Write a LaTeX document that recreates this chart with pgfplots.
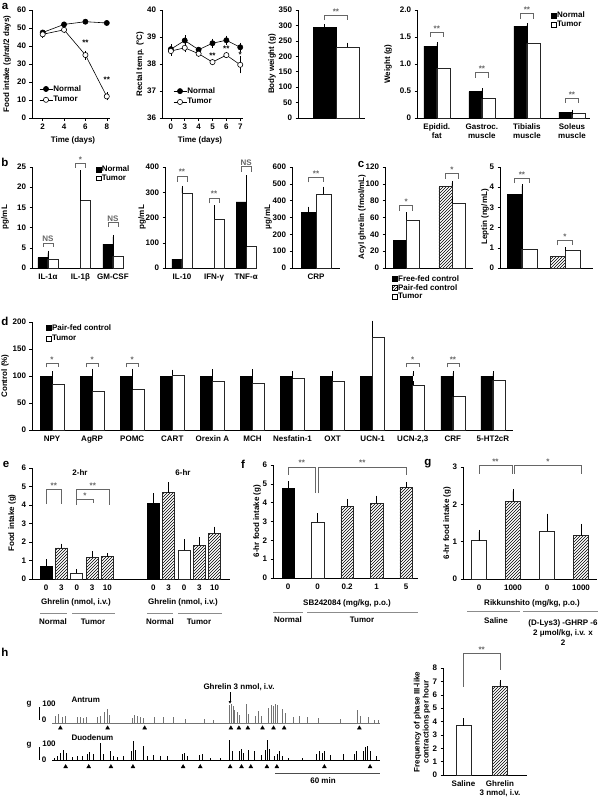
\documentclass[border=0pt]{standalone}
\usepackage{pgfplots}
\pgfplotsset{compat=1.18}
\usepackage{fontspec}
\setmainfont{Liberation Sans}
\usetikzlibrary{patterns,arrows.meta}
\newcommand{\fs}{\fontsize{8}{9}\selectfont\bfseries}
\newcommand{\fl}{\fontsize{11.5}{12}\selectfont\bfseries}
\newcommand{\legB}{\addlegendimage{legend image code/.code={\draw[fill=black,draw=black,line width=0.5pt] (0pt,-2.4pt) rectangle (4.8pt,2.4pt);}}}
\newcommand{\legW}{\addlegendimage{legend image code/.code={\draw[fill=white,draw=black,line width=0.5pt] (0pt,-2.4pt) rectangle (4.8pt,2.4pt);}}}
\newcommand{\legH}{\addlegendimage{legend image code/.code={\draw[pattern=north east lines,draw=black,line width=0.5pt] (0pt,-2.4pt) rectangle (4.8pt,2.4pt);}}}
\tikzset{brk/.style={black!60, line width=0.6pt}, st/.style={font=\fs, above, inner sep=0.6pt}}
\pgfplotsset{
  every axis/.append style={
    scale only axis, clip=false, anchor=south west,
    axis x line*=bottom, axis y line*=left,
    axis line style={-, line width=0.6pt},
    every outer x axis line/.append style={-},
    every outer y axis line/.append style={-},
    tick align=outside, major tick length=2.5pt,
    tick style={black, line width=0.5pt},
    tick label style={font=\fs},
    /pgf/number format/assume math mode=true,
    legend style={draw=none, fill=none, font=\fs, inner sep=0pt, row sep=0.5pt, nodes={inner sep=0.6pt}},
    legend cell align=left,
  },
  barax/.style={xtick style={draw=none}},
  ebp/.style={error bars/y dir=plus, error bars/y explicit,
    error bars/error bar style={black, line width=0.5pt},
    error bars/error mark options={black, mark size=2pt, line width=0.5pt}},
  bB/.style={ybar, bar width=#1, fill=black, draw=black, line width=0.6pt, ebp, forget plot},
  bW/.style={ybar, bar width=#1, fill=white, draw=black!85, line width=0.6pt, ebp, forget plot},
  bH/.style={ybar, bar width=#1, pattern=north east lines, draw=black!85, line width=0.6pt, ebp, forget plot},
  lineleg/.style={legend image code/.code={\draw[mark repeat=2,mark phase=2,##1] plot coordinates {(0pt,0pt)(6.5pt,0pt)(13pt,0pt)};}},
}
\begin{document}
\begin{tikzpicture}
\path[use as bounding box] (0pt,0pt) rectangle (599pt,-801pt);

% ---------------- a1 food intake
\begin{axis}[at={(32pt,-118pt)}, width=78pt, height=108pt,
  xmin=1, xmax=8.3, ymin=0, ymax=60, xtick={2,4,6,8}, ytick={0,10,...,60},
  lineleg, legend style={at={(0.09,0.31)}, anchor=north west, row sep=2.5pt}]
\addlegendimage{black, line width=0.6pt, mark=*, mark size=2.6pt, mark options={fill=black}}
\addlegendentry{Normal}
\addlegendimage{black, line width=0.6pt, mark=*, mark size=2.6pt, mark options={fill=white}}
\addlegendentry{Tumor}
\addplot[black, line width=0.6pt, mark=*, mark size=2.6pt, mark options={fill=black}, forget plot]
  coordinates {(2,47.5)(4,52)(6,53.5)(8,52.8)};
\addplot[black, line width=0.6pt, mark=*, mark size=2.6pt, mark options={fill=white}, forget plot,
  error bars/y dir=both, error bars/y explicit, error bars/error mark options={black, mark size=1.8pt}]
  coordinates {(2,46.5) +- (0,0.8) (4,49) +- (0,1) (6,35) +- (0,1.5) (8,12) +- (0,1.2)};
\node[font=\fs] at (axis cs:6,42) {**};
\node[font=\fs] at (axis cs:8,21) {**};
\end{axis}

% ---------------- a2 rectal temp
\begin{axis}[at={(162pt,-118pt)}, width=81pt, height=108pt,
  xmin=-0.64, xmax=5.2, ymin=36, ymax=40, xtick={0,...,5}, xticklabels={0,3,4,5,6,7}, ytick={36,...,40},
  lineleg, legend style={at={(0.136,0.29)}, anchor=north west, row sep=2.5pt}]
\addlegendimage{black, line width=0.6pt, mark=*, mark size=2.6pt, mark options={fill=black}}
\addlegendentry{Normal}
\addlegendimage{black, line width=0.6pt, mark=*, mark size=2.6pt, mark options={fill=white}}
\addlegendentry{Tumor}
\addplot[black, line width=0.6pt, mark=*, mark size=2.6pt, mark options={fill=black}, forget plot,
  error bars/y dir=both, error bars/y explicit, error bars/error mark options={black, mark size=1.8pt}]
  coordinates {(0,38.55) +- (0,0.12) (1,38.87) +- (0,0.12) (2,38.53) +- (0,0.05) (3,38.77) +- (0,0.1) (4,38.88) +- (0,0.1) (5,38.62) +- (0,0.1)};
\addplot[black, line width=0.6pt, mark=*, mark size=2.6pt, mark options={fill=white}, forget plot,
  error bars/y dir=both, error bars/y explicit, error bars/error mark options={black, mark size=1.8pt}]
  coordinates {(0,38.48) +- (0,0.1) (1,38.6) +- (0,0.1) (2,38.38) +- (0,0.05) (3,38.07) +- (0,0.05) (4,38.33) +- (0,0.05) (5,37.97) +- (0,0.25)};
\node[font=\fs] at (axis cs:3,38.3) {**};
\node[font=\fs] at (axis cs:4,38.55) {**};
\node[font=\fs] at (axis cs:5,38.33) {*};
\end{axis}

% ---------------- a3 body weight
\begin{axis}[at={(298pt,-118pt)}, width=67pt, height=108pt, barax,
  xmin=-1.15, xmax=1.76, ymin=0, ymax=350, ytick={0,50,...,350}, xtick=\empty]
\addplot[bB=23pt] coordinates {(0,295) +- (0,3)};
\addplot[bW=23pt] coordinates {(1,230) +- (0,8)};
\draw[brk] (axis cs:0,317) -- (axis cs:0,334) -- node[st]{**} (axis cs:1,334) -- (axis cs:1,317);
\end{axis}

% ---------------- a4 tissue weights
\begin{axis}[at={(417pt,-118pt)}, width=173pt, height=108pt, barax,
  xmin=-0.44, xmax=3.4, ymin=0, ymax=2, ytick={0,0.5,1,1.5,2}, yticklabels={0,0.5,1.0,1.5,2.0},
  xtick={0,1,2,3}, xticklabels={{Epidid.\\fat},{Gastroc.\\muscle},{Tibialis\\muscle},{Soleus\\muscle}},
  xticklabel style={align=center},
  legend style={at={(0.775,0.99)}, anchor=north west}]
\legB \addlegendentry{Normal}
\legW \addlegendentry{Tumor}
\addplot[bB=13pt, bar shift=-6.5pt] coordinates {(0,1.33) +- (0,0.04) (1,0.49) +- (0,0.02) (2,1.70) +- (0,0.02) (3,0.11) +- (0,0.01)};
\addplot[bW=13pt, bar shift=6.5pt] coordinates {(0,0.92) +- (0,0.06) (1,0.36) +- (0,0.02) (2,1.38) +- (0,0.05) (3,0.09) +- (0,0.01)};
\draw[brk] (axis cs:-0.14,1.5) -- (axis cs:-0.14,1.59) -- node[st]{**} (axis cs:0.14,1.59) -- (axis cs:0.14,1.5);
\draw[brk] (axis cs:0.86,0.75) -- (axis cs:0.86,0.84) -- node[st]{**} (axis cs:1.14,0.84) -- (axis cs:1.14,0.75);
\draw[brk] (axis cs:1.86,1.84) -- (axis cs:1.86,1.93) -- node[st]{**} (axis cs:2.14,1.93) -- (axis cs:2.14,1.84);
\draw[brk] (axis cs:2.86,0.28) -- (axis cs:2.86,0.37) -- node[st]{**} (axis cs:3.14,0.37) -- (axis cs:3.14,0.28);
\end{axis}

% ---------------- b1 cytokines
\begin{axis}[at={(32pt,-268pt)}, width=91pt, height=101pt, barax,
  xmin=-0.49, xmax=2.31, ymin=0, ymax=25, ytick={0,5,...,25},
  xtick={0,1,2}, xticklabels={IL-1α,IL-1β,GM-CSF},
  legend style={at={(0.70,1.02)}, anchor=north west}]
\legB \addlegendentry{Normal}
\legW \addlegendentry{Tumor}
\addplot[bB=10pt, bar shift=-5pt] coordinates {(0,2.6) +- (0,1.2) (2,5.9) +- (0,1.8)};
\addplot[bW=10pt, bar shift=5pt] coordinates {(0,2.2) +- (0,1.1) (1,16.7) +- (0,7.0) (2,2.9) +- (0,1.7)};
\draw[brk] (axis cs:-0.15,5.2) -- (axis cs:-0.15,6.2) -- node[st]{NS} (axis cs:0.15,6.2) -- (axis cs:0.15,5.2);
\draw[brk] (axis cs:0.85,24.8) -- (axis cs:0.85,26) -- node[st]{*} (axis cs:1.15,26) -- (axis cs:1.15,24.8);
\draw[brk] (axis cs:1.85,10.1) -- (axis cs:1.85,11.2) -- node[st]{NS} (axis cs:2.15,11.2) -- (axis cs:2.15,10.1);
\end{axis}

% ---------------- b2 cytokines
\begin{axis}[at={(165pt,-268pt)}, width=92pt, height=101pt, barax,
  xmin=-0.53, xmax=2.34, ymin=0, ymax=400, ytick={0,100,...,400},
  xtick={0,1,2}, xticklabels={IL-10,IFN-γ,TNF-α}]
\addplot[bB=10pt, bar shift=-5pt] coordinates {(0,35) +- (0,3) (2,262) +- (0,97)};
\addplot[bW=10pt, bar shift=5pt] coordinates {(0,297) +- (0,20) (1,193) +- (0,47) (2,85) +- (0,35)};
\draw[brk] (axis cs:-0.16,342) -- (axis cs:-0.16,365) -- node[st]{**} (axis cs:0.16,365) -- (axis cs:0.16,342);
\draw[brk] (axis cs:0.84,256) -- (axis cs:0.84,278) -- node[st]{**} (axis cs:1.16,278) -- (axis cs:1.16,256);
\draw[brk] (axis cs:1.84,382) -- (axis cs:1.84,404) -- node[st]{NS} (axis cs:2.16,404) -- (axis cs:2.16,382);
\end{axis}

% ---------------- b3 CRP
\begin{axis}[at={(292pt,-268pt)}, width=48pt, height=101pt, barax,
  xmin=-1.6, xmax=1.6, ymin=0, ymax=600, ytick={0,100,...,600},
  xtick={0}, xticklabels={CRP}]
\addplot[bB=15pt] coordinates {(-0.5,333) +- (0,20)};
\addplot[bW=15pt] coordinates {(0.5,437) +- (0,35)};
\draw[brk] (axis cs:-0.5,508) -- (axis cs:-0.5,540) -- node[st]{**} (axis cs:0.5,540) -- (axis cs:0.5,508);
\end{axis}

% ---------------- c1 acyl ghrelin
\begin{axis}[at={(385pt,-268pt)}, width=88pt, height=101pt, barax,
  xmin=-0.46, xmax=1.46, ymin=0, ymax=120, ytick={0,20,...,120}, xtick=\empty,
  legend style={at={(0.08,-0.064)}, anchor=north west}]
\legB \addlegendentry{Free-fed control}
\legH \addlegendentry{Pair-fed control}
\legW \addlegendentry{Tumor}
\addplot[bB=13pt, bar shift=-6.5pt] coordinates {(0,33) +- (0,5)};
\addplot[bH=13pt, bar shift=-6.5pt] coordinates {(1,97) +- (0,4)};
\addplot[bW=13pt, bar shift=6.5pt] coordinates {(0,57) +- (0,7) (1,77) +- (0,5)};
\draw[brk] (axis cs:-0.14,68) -- (axis cs:-0.14,74) -- node[st]{*} (axis cs:0.14,74) -- (axis cs:0.14,68);
\draw[brk] (axis cs:0.86,106) -- (axis cs:0.86,112) -- node[st]{*} (axis cs:1.14,112) -- (axis cs:1.14,106);
\end{axis}

% ---------------- c2 leptin
\begin{axis}[at={(500pt,-268pt)}, width=93pt, height=101pt, barax,
  xmin=-0.51, xmax=1.65, ymin=0, ymax=5, ytick={0,...,5}, xtick=\empty]
\addplot[bB=15pt, bar shift=-7.5pt] coordinates {(0,3.65) +- (0,0.4)};
\addplot[bH=15pt, bar shift=-7.5pt] coordinates {(1,0.57) +- (0,0.03)};
\addplot[bW=15pt, bar shift=7.5pt] coordinates {(0,0.95) +- (0,0.15) (1,0.87) +- (0,0.07)};
\draw[brk] (axis cs:-0.17,4.2) -- (axis cs:-0.17,4.46) -- node[st]{**} (axis cs:0.17,4.46) -- (axis cs:0.17,4.2);
\draw[brk] (axis cs:0.83,1.12) -- (axis cs:0.83,1.37) -- node[st]{*} (axis cs:1.17,1.37) -- (axis cs:1.17,1.12);
\end{axis}

% ---------------- d hypothalamic mRNA
\begin{axis}[at={(32pt,-430pt)}, width=481pt, height=108pt, barax,
  xmin=-0.5, xmax=11.5, ymin=0, ymax=200, ytick={0,50,...,200},
  xtick={0,...,11}, xticklabels={NPY,AgRP,POMC,CART,Orexin A,MCH,Nesfatin-1,OXT,UCN-1,{UCN-2,3},CRF,5-HT2cR},
  legend style={at={(0.029,0.986)}, anchor=north west, row sep=2.5pt}]
\legB \addlegendentry{Pair-fed control}
\legW \addlegendentry{Tumor}
\addplot[bB=12pt, bar shift=-6pt] coordinates {(0,100) +- (0,5) (1,100) +- (0,10) (2,100) +- (0,10) (3,100) +- (0,8) (4,100) +- (0,9) (5,100) +- (0,9) (6,100) +- (0,5) (7,100) +- (0,5) (8,100) +- (0,26) (9,100) +- (0,5) (10,100) +- (0,6) (11,100) +- (0,5)};
\addplot[bW=12pt, bar shift=6pt] coordinates {(0,85) +- (0,5) (1,72) +- (0,6) (2,75) +- (0,6) (3,102) +- (0,5) (4,91) +- (0,5) (5,87) +- (0,6) (6,95) +- (0,5) (7,91) +- (0,5) (8,172) +- (0,27) (9,83) +- (0,4) (10,62) +- (0,10) (11,92) +- (0,5)};
\draw[brk] (axis cs:-0.15,116) -- (axis cs:-0.15,124) -- node[st]{*} (axis cs:0.15,124) -- (axis cs:0.15,116);
\draw[brk] (axis cs:0.85,116) -- (axis cs:0.85,124) -- node[st]{*} (axis cs:1.15,124) -- (axis cs:1.15,116);
\draw[brk] (axis cs:1.85,116) -- (axis cs:1.85,124) -- node[st]{*} (axis cs:2.15,124) -- (axis cs:2.15,116);
\draw[brk] (axis cs:8.85,116) -- (axis cs:8.85,124) -- node[st]{*} (axis cs:9.15,124) -- (axis cs:9.15,116);
\draw[brk] (axis cs:9.85,116) -- (axis cs:9.85,124) -- node[st]{**} (axis cs:10.15,124) -- (axis cs:10.15,116);
\end{axis}

% ---------------- e food intake ghrelin
\begin{axis}[at={(32pt,-579pt)}, width=198pt, height=111pt, barax,
  xmin=-0.92, xmax=12, ymin=0, ymax=6, ytick={0,...,6},
  xtick={0,1,2,3,4,7,8,9,10,11}, xticklabels={0,3,0,3,10,0,3,0,3,10}]
\addplot[bB=12pt] coordinates {(0,0.67) +- (0,0.3) (7,4.07) +- (0,0.45)};
\addplot[bH=12pt] coordinates {(1,1.68) +- (0,0.12) (3,1.17) +- (0,0.22) (4,1.22) +- (0,0.06) (8,4.67) +- (0,0.45) (10,1.82) +- (0,0.35) (11,2.48) +- (0,0.25)};
\addplot[bW=12pt] coordinates {(2,0.3) +- (0,0.12) (9,1.55) +- (0,0.5)};
\draw[brk] (axis cs:0,4.05) -- (axis cs:0,4.86) -- node[st]{**} (axis cs:1,4.86) -- (axis cs:1,4.05);
\draw[brk] (axis cs:2,4.0) -- (axis cs:2,4.86) -- node[st]{**} (axis cs:4.1,4.86) -- (axis cs:4.1,4.0);
\draw[brk] (axis cs:2,4.32) -- node[st]{*} (axis cs:3.07,4.32) -- (axis cs:3.07,4.1);
\end{axis}

% ---------------- f SB242084
\begin{axis}[at={(273pt,-578pt)}, width=145pt, height=113pt, barax,
  xmin=-0.51, xmax=4.4, ymin=0, ymax=6, ytick={0,...,6},
  xtick={0,...,4}, xticklabels={0,0,0.2,1,5}]
\addplot[bB=12.5pt] coordinates {(0,4.75) +- (0,0.28)};
\addplot[bW=12.5pt] coordinates {(1,2.97) +- (0,0.35)};
\addplot[bH=12.5pt] coordinates {(2,3.8) +- (0,0.3) (3,3.97) +- (0,0.3) (4,4.8) +- (0,0.2)};
\draw[brk] (axis cs:0,5.47) -- (axis cs:0,5.9) -- node[st]{**} (axis cs:0.93,5.9) -- (axis cs:0.93,4.5);
\draw[brk] (axis cs:1.03,4.5) -- (axis cs:1.03,5.9) -- node[st]{**} (axis cs:4,5.9) -- (axis cs:4,5.47);
\end{axis}

% ---------------- g Rikkunshito
\begin{axis}[at={(463pt,-579pt)}, width=134pt, height=112pt, barax,
  xmin=-0.47, xmax=3.47, ymin=0, ymax=3, ytick={0,...,3},
  xtick={0,...,3}, xticklabels={0,1000,0,1000}]
\addplot[bW=15pt] coordinates {(0,1.03) +- (0,0.23) (2,1.28) +- (0,0.42)};
\addplot[bH=15pt] coordinates {(1,2.08) +- (0,0.27) (3,1.16) +- (0,0.26)};
\draw[brk] (axis cs:0,2.82) -- (axis cs:0,3.04) -- node[st]{**} (axis cs:0.97,3.04) -- (axis cs:0.97,2.82);
\draw[brk] (axis cs:1.05,2.82) -- (axis cs:1.05,3.04) -- node[st]{*} (axis cs:3,3.04) -- (axis cs:3,2.82);
\end{axis}

% ---------------- h bar chart
\begin{axis}[at={(443pt,-775pt)}, width=84pt, height=107pt, barax,
  xmin=-0.56, xmax=1.74, ymin=0, ymax=8, ytick={0,...,8},
  xtick={0,1}, xticklabels={Saline,{Ghrelin\\3 nmol, i.v.}}, xticklabel style={align=center}]
\addplot[bW=15pt] coordinates {(0,3.68) +- (0,0.4)};
\addplot[bH=15pt] coordinates {(1,6.62) +- (0,0.35)};
\draw[brk] (axis cs:0,6.6) -- (axis cs:0,9.1) -- node[st]{**} (axis cs:1,9.1) -- (axis cs:1,7.85);
\end{axis}

% ---------------- h traces: antrum
\begin{axis}[at={(52pt,-723pt)}, width=328pt, height=24pt, hide axis,
  xmin=0, xmax=187.6, ymin=0, ymax=168]
\addplot[black!55, line width=0.5pt] coordinates {(0,0)(187.6,0)};
\addplot[ycomb, black!55, line width=0.45pt] coordinates {(1.9,52)(3.8,65)(5.7,45)(7.6,52)(14.3,39)(16.2,45)(18.1,33)(19.6,39)(25.7,45)(27.6,52)(29.9,78)(31.4,98)(33.0,59)(45.7,33)(47.2,59)(48.6,52)(50.5,39)(52.4,33)(58.5,45)(63.8,39)(69.5,45)(76.2,26)(87.0,26)(92.4,20)(101.5,124)(102.5,130)(103.4,117)(104.4,91)(105.7,78)(107.2,59)(111.0,130)(112.4,65)(116.2,52)(118.1,85)(119.4,52)(123.8,104)(125.1,124)(126.7,117)(127.6,130)(128.6,124)(131.4,98)(133.3,72)(138.1,39)(141.3,52)(146.1,39)(152.4,33)(164.8,26)(174.7,91)(176.2,52)(181.0,39)(184.2,20)(186.7,20)};
\addplot[only marks, mark=triangle*, mark size=2.2pt, black] coordinates {(4.8,-35)(31.8,-35)(53.0,-35)(102.3,-35)(106.9,-35)(112.0,-35)(120.4,-35)(126.7,-35)(132.8,-35)(175.8,-35)};
\end{axis}

% ---------------- h traces: duodenum
\begin{axis}[at={(52pt,-760pt)}, width=328pt, height=24pt, hide axis,
  xmin=0, xmax=187.6, ymin=0, ymax=168]
\addplot[black, line width=0.5pt] coordinates {(0,0)(187.6,0)};
\addplot[ycomb, black, line width=0.45pt] coordinates {(1.0,15)(2.9,30)(4.8,50)(6.7,70)(8.0,50)(11.4,20)(14.3,25)(17.1,25)(20.0,45)(21.5,55)(23.8,40)(27.6,120)(29.5,40)(33.3,60)(34.9,30)(37.1,20)(41.0,25)(45.3,60)(46.7,130)(47.6,70)(52.4,100)(54.3,25)(58.1,35)(61.9,30)(65.7,30)(74.3,40)(75.6,50)(77.1,30)(84.2,35)(85.7,40)(90.5,15)(96.2,15)(101.5,140)(102.9,60)(107.2,60)(108.4,80)(109.5,50)(112.4,70)(115.6,60)(119.4,35)(122.1,70)(122.9,140)(124.0,80)(127.0,30)(128.6,40)(129.9,60)(131.4,30)(135.2,15)(142.9,15)(151.4,40)(153.0,60)(154.3,50)(155.6,60)(159.0,35)(166.7,40)(172.8,40)(173.9,60)(178.1,60)(179.4,90)(180.4,100)(181.9,60)(185.7,25)};
\addplot[only marks, mark=triangle*, mark size=2.2pt, black] coordinates {(7.8,-47)(21.0,-47)(33.7,-47)(46.3,-47)(75.0,-47)(84.8,-47)(101.9,-47)(108.4,-47)(113.7,-47)(122.9,-47)(128.6,-47)(155.8,-47)(181.9,-47)};
\end{axis}

% ---------------- panel letters
\node[font=\fl] at (5pt,-6pt) {a};
\node[font=\fl] at (5pt,-162pt) {b};
\node[font=\fl] at (361pt,-164pt) {c};
\node[font=\fl] at (5pt,-321pt) {d};
\node[font=\fl] at (6pt,-464pt) {e};
\node[font=\fl] at (243pt,-464pt) {f};
\node[font=\fl] at (428pt,-464pt) {g};
\node[font=\fl] at (5pt,-652pt) {h};

% ---------------- y labels
\node[rotate=90, font=\fs] at (7pt,-64pt) {Food intake (g/rat/2 days)};
\node[rotate=90, font=\fs] at (140pt,-64pt) {Rectal temp. (°C)};
\node[rotate=90, font=\fs] at (272pt,-64pt) {Body weight (g)};
\node[rotate=90, font=\fs] at (388pt,-64pt) {Weight (g)};
\node[rotate=90, font=\fs] at (5pt,-217pt) {pg/mL};
\node[rotate=90, font=\fs] at (142pt,-217pt) {pg/mL};
\node[rotate=90, font=\fs] at (268pt,-217pt) {μg/mL};
\node[rotate=90, font=\fs] at (362pt,-217pt) {Acyl ghrelin (fmol/mL)};
\node[rotate=90, font=\fs] at (485pt,-217pt) {Leptin (ng/mL)};
\node[rotate=90, font=\fs] at (5pt,-376pt) {Control (\%)};
\node[rotate=90, font=\fs] at (12pt,-523pt) {Food intake (g)};
\node[rotate=90, font=\fs] at (257pt,-521pt) {6-hr food intake (g)};
\node[rotate=90, font=\fs] at (447pt,-523pt) {6-hr food intake (g)};
\node[rotate=90, font=\fs, align=center] at (422pt,-722pt) {Frequency of phase III-like\\contractions per hour};

% ---------------- x labels and group annotations
\node[font=\fs] at (73pt,-140pt) {Time (days)};
\node[font=\fs] at (200pt,-140pt) {Time (days)};
\node[font=\fs] at (80pt,-473pt) {2-hr};
\node[font=\fs] at (183pt,-473pt) {6-hr};
\node[font=\fs] at (76pt,-602pt) {Ghrelin (nmol, i.v.)};
\node[font=\fs] at (183pt,-602pt) {Ghrelin (nmol, i.v.)};
\node[font=\fs] at (347pt,-603pt) {SB242084 (mg/kg, p.o.)};
\node[font=\fs] at (532pt,-603pt) {Rikkunshito (mg/kg, p.o.)};
\begin{scope}[black!45, line width=0.8pt]
\draw (40pt,-613pt) -- (67pt,-613pt);
\draw (72pt,-613pt) -- (115pt,-613pt);
\draw (147pt,-613pt) -- (173pt,-613pt);
\draw (178pt,-613pt) -- (222pt,-613pt);
\draw (273pt,-612pt) -- (303pt,-612pt);
\draw (307pt,-612pt) -- (418pt,-612pt);
\draw (467pt,-611pt) -- (520pt,-611pt);
\draw (523pt,-611pt) -- (598pt,-611pt);
\end{scope}
\node[font=\fs] at (53pt,-622pt) {Normal};
\node[font=\fs] at (93pt,-622pt) {Tumor};
\node[font=\fs] at (160pt,-622pt) {Normal};
\node[font=\fs] at (199pt,-622pt) {Tumor};
\node[font=\fs] at (288pt,-620pt) {Normal};
\node[font=\fs] at (362pt,-620pt) {Tumor};
\node[font=\fs] at (496pt,-621pt) {Saline};
\node[font=\fontsize{8}{10}\selectfont\bfseries, align=center, anchor=north] at (563pt,-616pt) {(D-Lys3) -GHRP -6\\2 μmol/kg, i.v. x\\2};

% ---------------- h trace annotations
\node[font=\fs, anchor=west] at (68pt,-700pt) {Antrum};
\node[font=\fs, anchor=west] at (68pt,-738pt) {Duodenum};
\node[font=\fs] at (239pt,-687pt) {Ghrelin 3 nmol, i.v.};
\draw[-{Latex[length=3pt,width=3pt]}, line width=0.7pt] (230pt,-692pt) -- (230pt,-704pt);
\node[font=\fs] at (29pt,-704pt) {g};
\node[font=\fs] at (29pt,-745pt) {g};
\draw[line width=0.7pt] (39pt,-707pt) -- (39pt,-720pt);
\draw[line width=0.7pt] (39pt,-747pt) -- (39pt,-760pt);
\node[font=\fs] at (49pt,-704pt) {100};
\node[font=\fs] at (44pt,-720pt) {0};
\node[font=\fs] at (49pt,-744pt) {100};
\node[font=\fs] at (44pt,-760pt) {0};
\draw[black!70, line width=0.7pt] (275pt,-773pt) -- (380pt,-773pt);
\node[font=\fs] at (323pt,-781pt) {60 min};
\end{tikzpicture}
\end{document}
